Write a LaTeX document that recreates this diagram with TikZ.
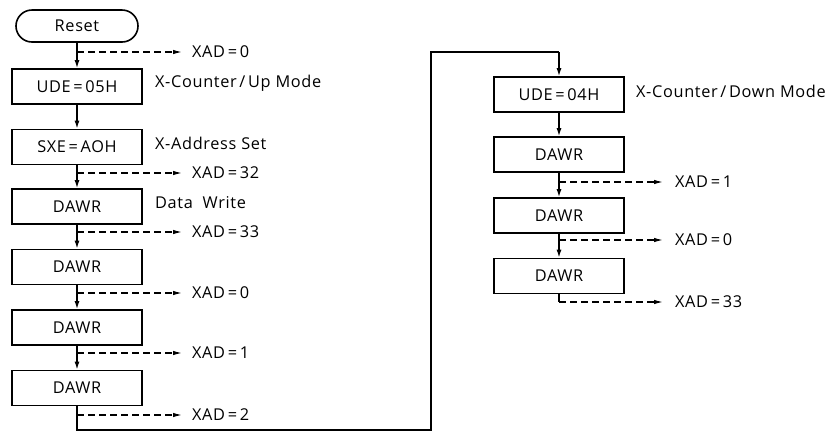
\documentclass[tikz,border=0pt]{standalone}
\usepackage{fontspec}
\setmainfont[LetterSpace=4]{Open Sans}
\usetikzlibrary{arrows.meta}
\begin{document}
\begin{tikzpicture}[x=1pt,y=-1pt,
  font=\fontsize{16.3}{18}\selectfont,
  stepbox/.style={draw, line width=1.6pt, minimum width=130pt, minimum height=35pt, inner sep=0pt},
  termbox/.style={draw, line width=1.6pt, rounded corners=16pt, minimum width=122pt, minimum height=32pt, inner sep=0pt},
  flow/.style={line width=1.4pt, -{Latex[length=8pt,width=5pt]}},
  plain/.style={line width=1.4pt},
  branch/.style={line width=1.2pt, dash pattern=on 7pt off 4pt, -{Latex[length=9pt,width=4.5pt]}},
  lbl/.style={anchor=west, inner sep=0pt}]
\useasboundingbox (0,0) rectangle (833,432);
% left column
\node[termbox] (reset) at (77,26) {Reset};
\node[stepbox] (ude1) at (77,86.5) {UDE\,=\,05H};
\node[stepbox] (sxe) at (77,147) {SXE\,=\,AOH};
\node[stepbox] (d1) at (77,206.5) {DAWR};
\node[stepbox] (d2) at (77,267) {DAWR};
\node[stepbox] (d3) at (77,327.5) {DAWR};
\node[stepbox] (d4) at (77,388) {DAWR};
% right column
\node[stepbox] (ude2) at (559,94.5) {UDE\,=\,04H};
\node[stepbox] (r1) at (559,154.5) {DAWR};
\node[stepbox] (r2) at (559,215.5) {DAWR};
\node[stepbox] (r3) at (559,276) {DAWR};
% side labels
\node[lbl] (l1) at (155,83) {X-Counter\,/\,Up Mode};
\node[lbl] (l2) at (155,143) {X-Address Set};
\node[lbl] (l3) at (155,203) {Data\ \ Write};
\node[lbl] (l4) at (636,91) {X-Counter\,/\,Down\ Mode};
% flow arrows
\draw[flow] (reset) -- (ude1);
\draw[flow] (ude1) -- (sxe);
\draw[flow] (sxe) -- (d1);
\draw[flow] (d1) -- (d2);
\draw[flow] (d2) -- (d3);
\draw[flow] (d3) -- (d4);
\draw[flow] (ude2) -- (r1);
\draw[flow] (r1) -- (r2);
\draw[flow] (r2) -- (r3);
% loop connector
\coordinate (c1) at (77,430);
\coordinate (c2) at (431,430);
\coordinate (c3) at (431,52);
\coordinate (c4) at (559,52);
\draw[plain] (d4.south) -- (c1) -- (c2) -- (c3) -- (c4);
\draw[flow] (c4) -- (ude2.north);
% right final corner
\coordinate (rc) at (559,302);
\draw[plain] (r3.south) -- (rc);
% left dashed branches
\foreach \n/\y/\t in {a/52/0, b/173/32, c/232/33, d/293/0, e/353/1, f/415/2}{
  \coordinate (s\n) at (77,\y);
  \coordinate (e\n) at (182,\y);
  \draw[branch] (s\n) -- (e\n);
  \node[lbl] (x\n) at (192,\y) {XAD\,=\,\t};
}
% right dashed branches
\foreach \n/\y/\t in {g/182/1, h/240/0, i/302/33}{
  \coordinate (s\n) at (559,\y);
  \coordinate (e\n) at (663,\y);
  \draw[branch] (s\n) -- (e\n);
  \node[lbl] (x\n) at (675,\y) {XAD\,=\,\t};
}
\end{tikzpicture}
\end{document}
